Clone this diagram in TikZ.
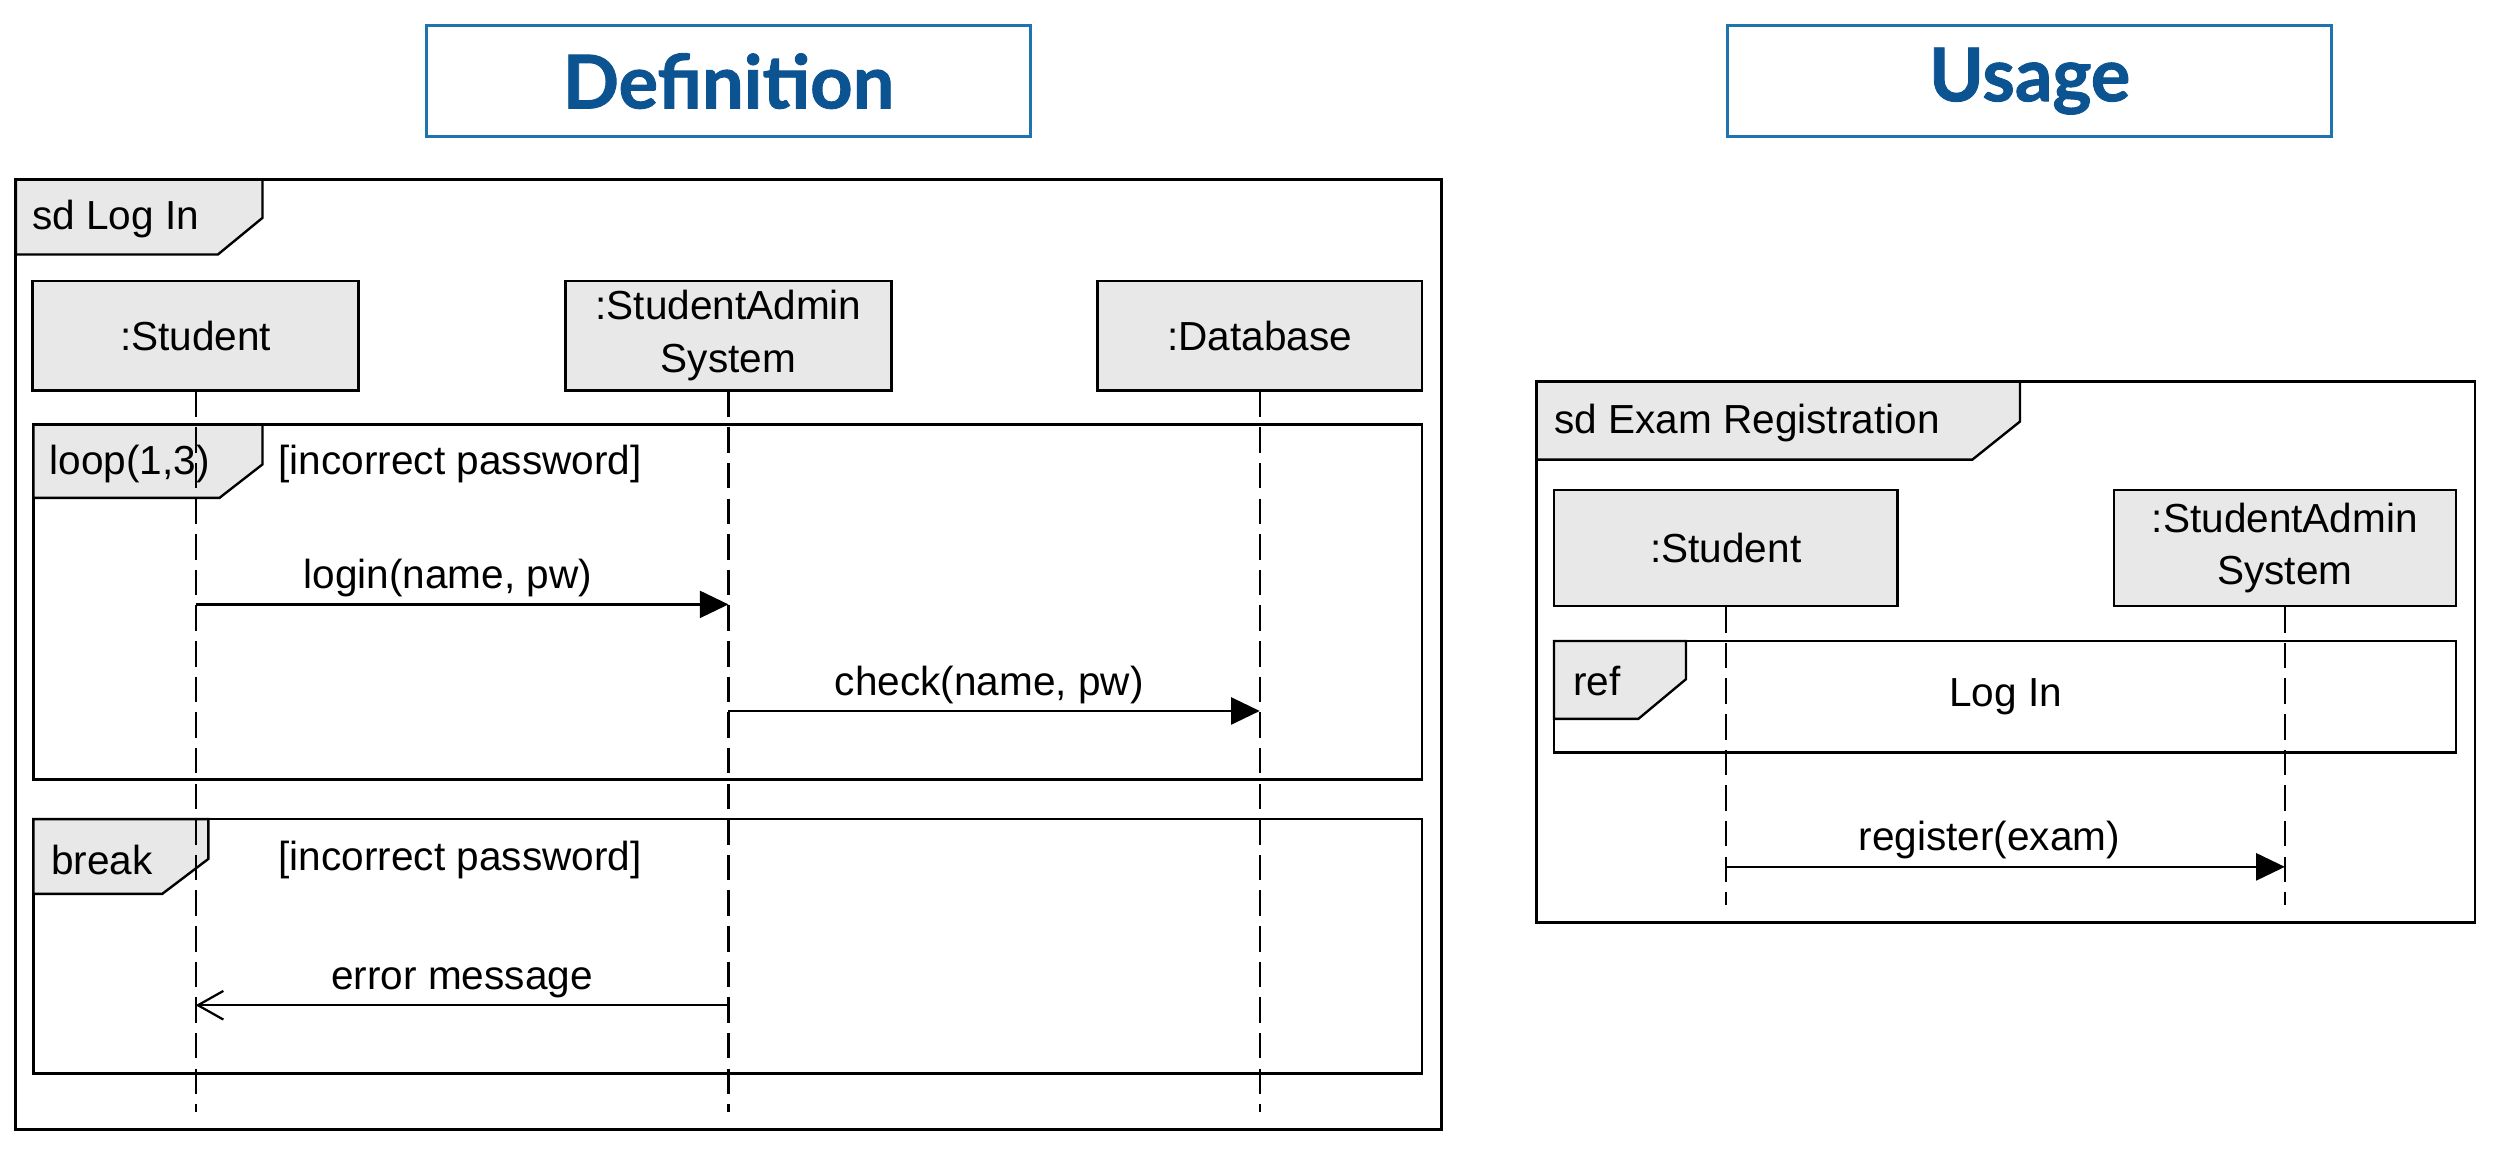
\documentclass[tikz,border=0pt]{standalone}
\usepackage{fontspec}
\setmainfont{Liberation Sans}
\newfontfamily\titlefont{Lato}[BoldFeatures={FakeBold=1.2}]
\usetikzlibrary{arrows.meta}
\definecolor{titleblue}{RGB}{11,83,145}
\definecolor{boxblue}{RGB}{31,115,175}
\definecolor{tagfill}{RGB}{232,232,232}

\begin{document}
\begin{tikzpicture}[x=1pt,y=-1pt,font=\fontsize{25.5}{33}\selectfont]
\tikzstyle{title}=[draw=boxblue,line width=2pt,minimum width=380pt,minimum height=70pt,text=titleblue,font=\titlefont\bfseries\fontsize{46.5}{50}\selectfont]
\tikzstyle{frame}=[draw,line width=1.8pt]
\tikzstyle{fragment}=[draw,line width=1.5pt]
\tikzstyle{tag}=[draw,fill=tagfill,line width=1.5pt]
\tikzstyle{obj}=[draw,fill=tagfill,line width=1.5pt,minimum height=69pt,align=center,inner sep=0pt]
\tikzstyle{life}=[dash pattern=on 16pt off 6.4pt,line width=1.3pt]
\tikzstyle{call}=[line width=1.4pt,-{Triangle[length=18pt,width=17pt]}]
\tikzstyle{reply}=[line width=1.4pt,-{Straight Barb[length=16pt,width=18pt]}]
\tikzstyle{lbl}=[inner sep=0pt,anchor=west]
\tikzstyle{msg}=[above=4pt,inner sep=0pt]
\useasboundingbox (0,0) rectangle (1568,727);

\node[title](def) at (458,51) {Definition};
\node[title](use) at (1276,51) {Usage};

\draw[tag] (10,113) -- (165,113) -- (165,137) -- (137,160) -- (10,160) -- cycle;
\draw[frame] (10,113) rectangle (906,710);
\node[lbl](sdlog) at (20,138) {sd Log In};

\node[obj,minimum width=205pt](stu) at (123,211) {:Student};
\node[obj,minimum width=205pt](sas) at (458,211) {:StudentAdmin\\System};
\node[obj,minimum width=204pt](db) at (792,211) {:Database};

\draw[fragment] (21,267) rectangle (894,490);
\draw[tag] (21,267) -- (165,267) -- (165,292) -- (138,313) -- (21,313) -- cycle;
\node[lbl](loop) at (31,292) {loop(1,3)};
\node[lbl](guard1) at (175,292) {[incorrect password]};

\draw[fragment] (21,515) rectangle (894,675);
\draw[tag] (21,515) -- (131,515) -- (131,540) -- (102,562) -- (21,562) -- cycle;
\node[lbl](brk) at (32,541) {break};
\node[lbl](guard2) at (175,541) {[incorrect password]};

\coordinate (stuend) at (123,699);
\coordinate (sasend) at (458,699);
\coordinate (dbend) at (792,699);
\draw[life] (stu) -- (stuend);
\draw[life] (sas) -- (sasend);
\draw[life] (db) -- (dbend);

\coordinate (m1a) at (123,380);
\coordinate (m1b) at (458,380);
\coordinate (m2a) at (458,447);
\coordinate (m2b) at (792,447);
\coordinate (m3a) at (458,632);
\coordinate (m3b) at (123,632);
\draw[call] (m1a) -- node[msg,xshift=-9pt]{login(name, pw)} (m1b);
\draw[call] (m2a) -- node[msg,xshift=-3pt]{check(name, pw)} (m2b);
\draw[reply] (m3a) -- node[msg]{error message} (m3b);

\draw[tag] (966,240) -- (1270,240) -- (1270,265) -- (1240,289) -- (966,289) -- cycle;
\draw[frame] (966,240) rectangle (1556,580);
\node[lbl](sdexam) at (977,266) {sd Exam Registration};

\node[obj,minimum width=216pt,minimum height=73pt](stu2) at (1085,344.5) {:Student};
\node[obj,minimum width=215pt,minimum height=73pt](sas2) at (1436.5,344.5) {:StudentAdmin\\System};

\draw[fragment] (977,403) rectangle (1544,473);
\draw[tag] (977,403) -- (1060,403) -- (1060,427) -- (1030,452) -- (977,452) -- cycle;
\node[lbl](ref) at (989,428) {ref};
\node(login) at (1261,438) {Log In};

\coordinate (stu2end) at (1085,569);
\coordinate (sas2end) at (1436.5,569);
\draw[life] (stu2) -- (stu2end);
\draw[life] (sas2) -- (sas2end);

\coordinate (m4a) at (1085,545);
\coordinate (m4b) at (1436.5,545);
\draw[call] (m4a) -- node[msg,xshift=-10pt]{register(exam)} (m4b);
\end{tikzpicture}
\end{document}
